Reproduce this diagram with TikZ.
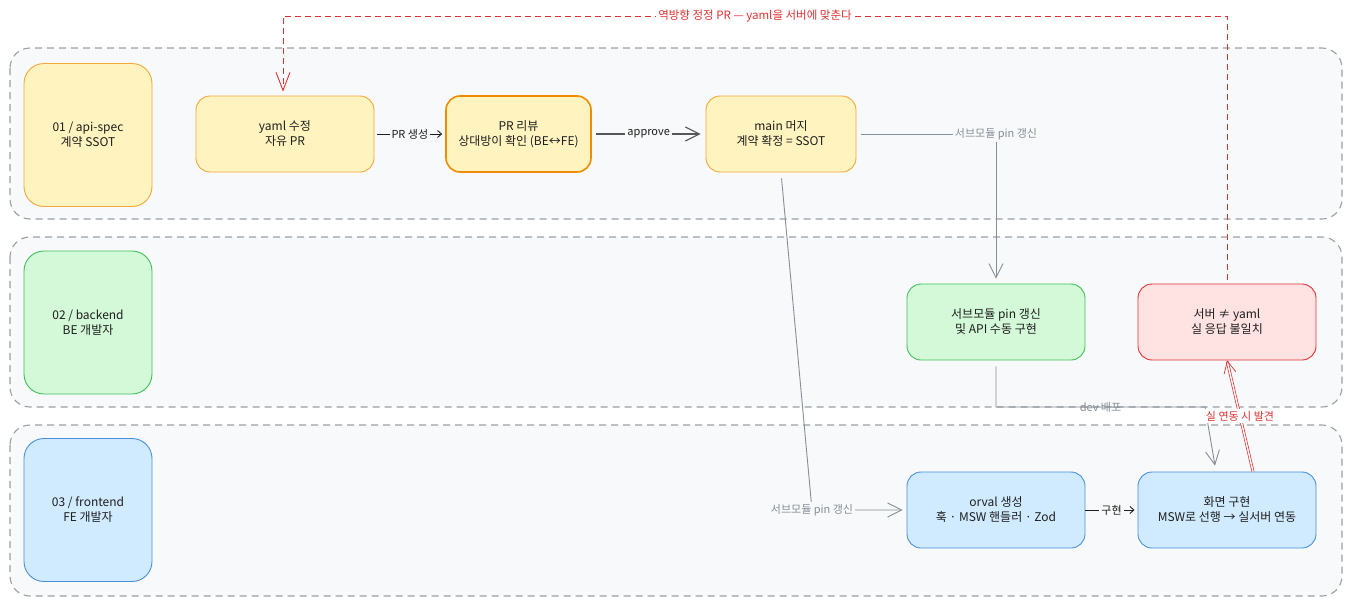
\documentclass[tikz,border=0pt]{standalone}
\usepackage{fontspec}
\setmainfont{Noto Sans CJK KR}
\usepackage{tikz}
\usetikzlibrary{arrows.meta}

\definecolor{laneline}{HTML}{9AA0A6}
\definecolor{lanefill}{HTML}{F8F9FA}
\definecolor{ink}{HTML}{1E1E1E}
\definecolor{wire}{HTML}{868E96}
\definecolor{yfill}{HTML}{FFF3BF}
\definecolor{yline}{HTML}{F5A83A}
\definecolor{oline}{HTML}{F08C00}
\definecolor{gfill}{HTML}{D3F9D8}
\definecolor{gline}{HTML}{40C057}
\definecolor{rfill}{HTML}{FFE3E3}
\definecolor{rline}{HTML}{E03131}
\definecolor{bfill}{HTML}{D0EBFF}
\definecolor{bline}{HTML}{4A90D9}

\tikzset{
	lanebox/.style={draw=laneline, fill=lanefill, line width=1.1pt, dash pattern=on 7pt off 5pt, rounded corners=20pt},
	cardbox/.style={rounded corners=14pt, minimum width=178pt, minimum height=76pt, align=center, text=ink, font=\fontsize{12}{15}\selectfont, line width=0.9pt},
	headbox/.style={cardbox, rounded corners=20pt, minimum width=128pt, minimum height=143pt},
	yellowbox/.style={draw=yline, fill=yfill},
	greenbox/.style={draw=gline, fill=gfill},
	redbox/.style={draw=rline, fill=rfill},
	bluebox/.style={draw=bline, fill=bfill},
	wirelabel/.style={font=\fontsize{11}{13}\selectfont, text=wire, inner sep=2pt},
	barb/.style={-{Straight Barb[length=14pt,width=14pt]}},
	smallbarb/.style={-{Straight Barb[length=4pt,width=7pt]}},
}

\begin{document}
\begin{tikzpicture}[x=1pt, y=-1pt]
			%%%%% START %%%%%
			
			\fill[white] (0, 0) rectangle (1358, 608);
			\useasboundingbox (0, 0) rectangle (1358, 608);
			
			\draw[lanebox] (10, 48) rectangle (1342, 219);
			\draw[lanebox] (10, 237) rectangle (1342, 407);
			\draw[lanebox] (10, 425) rectangle (1342, 596);
			
			\node[headbox, yellowbox] (spec) at (88, 135) {01 / api-spec\\계약 SSOT};
			\node[headbox, greenbox] (backend) at (88, 322.5) {02 / backend\\BE 개발자};
			\node[headbox, bluebox] (frontend) at (88, 510) {03 / frontend\\FE 개발자};
			
			\node[cardbox, yellowbox] (edit) at (285, 134) {yaml 수정\\자유 PR};
			\node[cardbox, yellowbox, draw=oline, line width=1.6pt, minimum width=145pt] (review) at (518.5, 134) {PR 리뷰\\상대방이 확인 (BE↔FE)};
			\node[cardbox, yellowbox, minimum width=150pt] (merge) at (781, 134) {main 머지\\계약 확정 = SSOT};
			
			\node[cardbox, greenbox] (pin) at (996, 322) {서브모듈 pin 갱신\\및 API 수동 구현};
			\node[cardbox, redbox] (drift) at (1227, 322) {서버 ≠ yaml\\실 응답 불일치};
			
			\node[cardbox, bluebox] (orval) at (996, 510) {orval 생성\\훅 · MSW 핸들러 · Zod};
			\node[cardbox, bluebox] (screen) at (1227, 510) {화면 구현\\MSW로 선행 → 실서버 연동};
			
			\draw[ink, line width=0.9pt, smallbarb, shorten <=3pt, shorten >=3pt] (edit) -- node[wirelabel, text=ink, fill=lanefill] {PR 생성} (review);
			\draw[ink!75, line width=1.1pt, barb, shorten <=4pt, shorten >=5pt] (review) -- node[wirelabel, text=ink, fill=lanefill] {approve} (merge);
			
			\coordinate (pinbend) at (996, 134);
			\draw[wire, line width=0.9pt, barb, shorten <=5pt, shorten >=5pt] (merge.east) -- (pinbend) node[wirelabel, fill=lanefill] {서브모듈 pin 갱신} -- (pin.north);
			
			\coordinate (orvalbend) at (812, 510);
			\draw[wire, line width=0.9pt, barb, shorten <=6pt, shorten >=4pt] (merge.south) -- (orvalbend) node[wirelabel, fill=lanefill] {서브모듈 pin 갱신} -- (orval.west);
			
			\coordinate (devdown) at (996, 407);
			\coordinate (devright) at (1205, 407);
			\draw[wire, line width=0.9pt, barb, shorten <=6pt, shorten >=6pt] (pin.south) -- (devdown) -- node[wirelabel] {dev 배포} (devright) -- ([xshift=-11pt]screen.north);
			
			\draw[ink, line width=0.9pt, smallbarb, shorten >=3pt] (orval) -- node[wirelabel, text=ink, fill=lanefill] {구현} (screen);
			
			\draw[rline, line width=0.7pt, double=white, double distance=1.4pt, -{Straight Barb[length=12pt,width=12pt]}] ([xshift=26pt]screen.north) -- node[wirelabel, text=rline, fill=white] {실 연동 시 발견} (drift.south);
			
			\coordinate (backup) at (1227, 16);
			\coordinate (backleft) at (283, 16);
			\draw[rline, line width=0.9pt, dash pattern=on 6pt off 4pt, -{Straight Barb[length=18pt,width=14pt]}, shorten <=4pt, shorten >=4pt] (drift.north) -- (backup) -- node[wirelabel, text=rline, fill=white, font=\fontsize{11.5}{13}\selectfont] {역방향 정정 PR — yaml을 서버에 맞춘다} (backleft) -- ([xshift=-2pt]edit.north);
			
			%%%%% END %%%%%
\end{tikzpicture}
\end{document}
